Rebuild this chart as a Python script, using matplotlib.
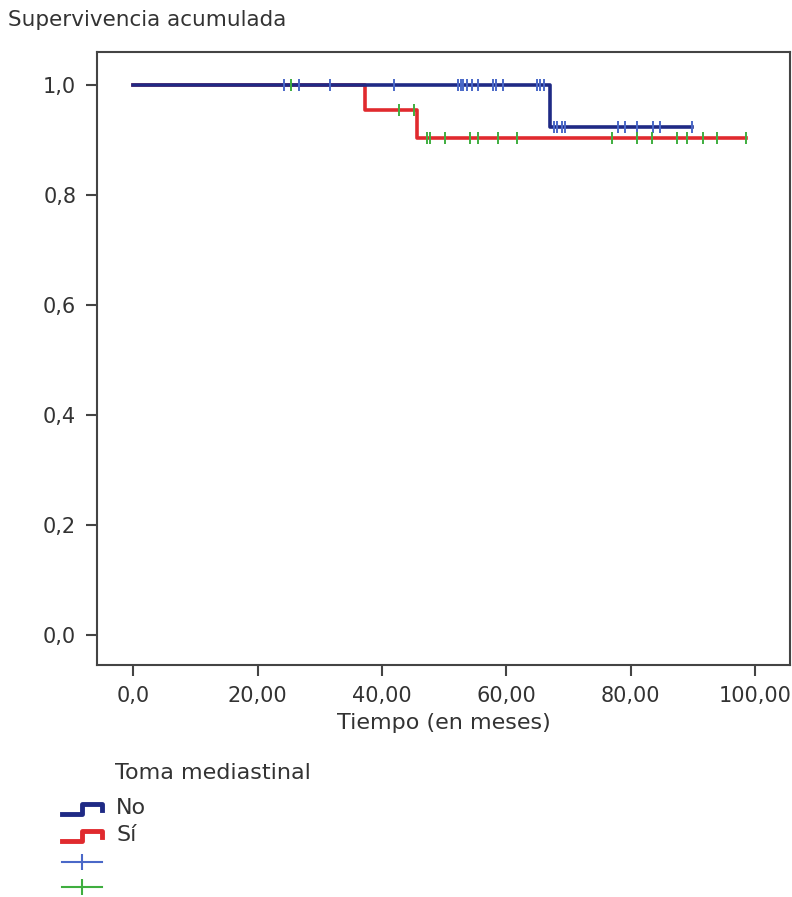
# Kaplan-Meier: supervivencia acumulada segun toma mediastinal
import matplotlib
matplotlib.use("Agg")
import matplotlib.pyplot as plt
import numpy as np

plt.rcParams.update({
    "font.family": ["DejaVu Sans"],
    "font.size": 16,
})

# curva "No"
no_times = [0.0, 67.0, 89.8]
no_surv = [1.0, 0.923, 0.923]
no_cens_x = [24.3, 26.6, 31.6, 42.0, 52.3, 52.7, 53.1, 53.7, 54.5, 55.4,
             57.9, 58.4, 59.5, 64.9, 65.4, 66.0,
             67.6, 68.1, 68.9, 69.5, 78.0, 79.1, 81.0, 83.6, 84.7, 89.8]

# curva "Sí"
si_times = [0.0, 37.3, 45.7, 98.6]
si_surv = [1.0, 0.9545, 0.9045, 0.9045]
si_cens_x = [25.4, 42.7, 45.1, 47.2, 47.7, 50.2, 54.2, 55.5, 58.6, 61.7,
             77.0, 81.0, 83.4, 87.4, 89.0, 91.6, 93.9, 98.6]

x_ticks = [0, 20, 40, 60, 80, 100]
x_labels = ["0,0", "20,00", "40,00", "60,00", "80,00", "100,00"]
y_ticks = [0.0, 0.2, 0.4, 0.6, 0.8, 1.0]
y_labels = ["0,0", "0,2", "0,4", "0,6", "0,8", "1,0"]

NO_COL = "#1f2a85"
SI_COL = "#e02a2e"
NO_CENS = "#4a68c8"
SI_CENS = "#3fae3f"
FRAME = "#444444"
TXT = "#333333"


def surv_at(times, surv, t):
    idx = np.searchsorted(times, t, side="right") - 1
    return surv[max(idx, 0)]


fig = plt.figure(figsize=(7.92, 8.97), dpi=100)
ax = fig.add_axes([0.1225, 0.2586, 0.875, 0.6834])

ax.step(si_times, si_surv, where="post", color=SI_COL, lw=2.6, zorder=3)
ax.step(no_times, no_surv, where="post", color=NO_COL, lw=2.6, zorder=4)

ax.plot(no_cens_x, [surv_at(no_times, no_surv, t) for t in no_cens_x],
        ls="none", marker="|", ms=8, mew=1.4, color=NO_CENS, zorder=5)
ax.plot(si_cens_x, [surv_at(si_times, si_surv, t) for t in si_cens_x],
        ls="none", marker="|", ms=8, mew=1.4, color=SI_CENS, zorder=5)

ax.set_xlim(-5.8, 105.6)
ax.set_ylim(-0.0545, 1.06)
ax.set_xticks(x_ticks)
ax.set_xticklabels(x_labels)
ax.set_yticks(y_ticks)
ax.set_yticklabels(y_labels)
ax.tick_params(direction="out", length=8, width=1.5, color=FRAME,
               labelcolor=TXT, labelsize=15, pad=7)
for s in ax.spines.values():
    s.set_color(FRAME)
    s.set_linewidth(1.5)

ax.set_xlabel("Tiempo (en meses)", fontsize=16, color=TXT, labelpad=5)
fig.text(8 / 792, 1 - 20 / 897, "Supervivencia acumulada", fontsize=15.5,
         color=TXT, va="center", ha="left")

# leyenda manual
fig.text(115 / 792, 1 - 773 / 897, "Toma mediastinal", fontsize=16,
         color=TXT, va="center", ha="left")
lg = fig.add_axes([0, 0, 1, 1], facecolor="none")
lg.set_xlim(0, 792)
lg.set_ylim(897, 0)
lg.axis("off")
for yc, col, lab in [(809, NO_COL, "No"), (836, SI_COL, "Sí")]:
    lg.plot([62, 82, 82, 102, 102], [yc + 5, yc + 5, yc - 5, yc - 5, yc + 1],
            color=col, lw=3.5)
    lg.text(116, yc - 1, lab, fontsize=16, color=TXT, va="center")
for yc, col in [(862, NO_CENS), (887, SI_CENS)]:
    lg.plot([62, 102], [yc, yc], color=col, lw=1.5)
    lg.plot([82], [yc], marker="|", ms=12, mew=1.5, color=col)

fig.savefig("out.png", dpi=100)
